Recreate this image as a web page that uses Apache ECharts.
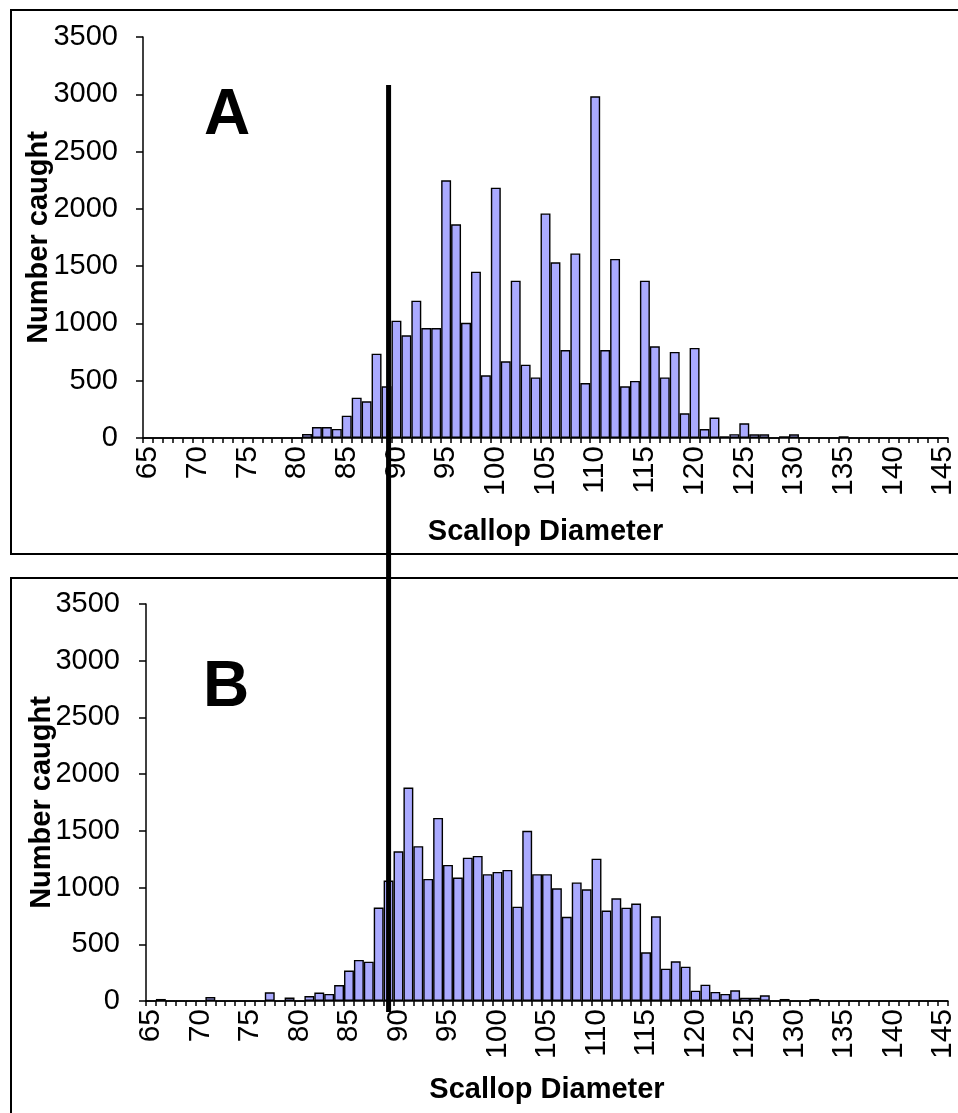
<!DOCTYPE html>
<html>
<head>
<meta charset="utf-8">
<script src="https://cdn.jsdelivr.net/npm/echarts@6/dist/echarts.min.js"></script>
<style>
  html, body { margin: 0; padding: 0; background: #fff; }
  #chart { width: 958px; height: 1113px; }
</style>
</head>
<body>
<div id="chart"></div>
<script>
// scallop diameter bins (mm)
const diameters = [
  '65','66','67','68','69','70','71','72','73','74','75','76','77','78','79','80',
  '81','82','83','84','85','86','87','88','89','90','91','92','93','94','95','96',
  '97','98','99','100','101','102','103','104','105','106','107','108','109','110',
  '111','112','113','114','115','116','117','118','119','120','121','122','123','124',
  '125','126','127','128','129','130','131','132','133','134','135','136','137','138',
  '139','140','141','142','143','144','145'
];

// panel A counts
const caughtA = [
  0, 0, 0, 0, 0, 0, 0, 0, 0, 0, 0, 0, 0, 0, 0, 0,
  35, 96, 96, 79, 195, 352, 320, 736, 451, 1024, 896, 1199, 960, 960, 2249, 1865,
  1006, 1452, 547, 2185, 669, 1373, 640, 529, 1960, 1533, 768, 1611, 480, 2982,
  768, 1563, 451, 498, 1373, 800, 529, 751, 215, 786, 78, 178, 15, 33,
  128, 32, 32, 0, 15, 32, 0, 0, 0, 0, 15, 0, 0, 0,
  0, 0, 0, 0, 0, 0, 0
];

// panel B counts
const caughtB = [
  0, 18, 0, 0, 0, 0, 35, 0, 0, 0, 0, 0, 77, 0, 30, 0,
  44, 74, 62, 141, 268, 362, 347, 824, 1062, 1320, 1882, 1365, 1076, 1614, 1200, 1088,
  1264, 1279, 1118, 1138, 1156, 832, 1500, 1118, 1118, 994, 742, 1045, 985, 1255,
  797, 906, 823, 859, 430, 747, 285, 350, 303, 91, 144, 80, 62, 94,
  29, 29, 50, 0, 18, 0, 0, 18, 0, 0, 0, 0, 0, 0,
  0, 0, 0, 0, 0, 0, 0
];

const yTicks = { min: 0, max: 3500, step: 500 };
const cutoffSize = '89';   // the vertical reference line
const panelLetters = ['A', 'B'];

const FONT = '"Liberation Sans", Arial, sans-serif';
const chart = echarts.init(document.getElementById('chart'));

function xAxisFor(i, nameGap) {
  return {
    type: 'category',
    gridIndex: i,
    data: diameters,
    boundaryGap: true,
    name: 'Scallop Diameter',
    nameLocation: 'middle',
    nameGap: nameGap,
    nameMoveOverlap: false,
    nameTextStyle: { color: '#000', fontFamily: FONT, fontWeight: 'bold', fontSize: 29 },
    axisLine: { lineStyle: { color: '#000', width: 1.5 } },
    axisTick: { show: true, interval: 0, length: 5, lineStyle: { color: '#000', width: 1.5 } },
    axisLabel: {
      interval: 4, rotate: 90, margin: 8, color: '#000',
      fontFamily: FONT, fontSize: 30, padding: [0, 0, 6, 0]
    }
  };
}

function yAxisFor(i, margin) {
  return {
    type: 'value',
    gridIndex: i,
    min: yTicks.min, max: yTicks.max, interval: yTicks.step,
    name: 'Number caught',
    nameLocation: 'middle',
    nameGap: 90,
    nameMoveOverlap: false,
    nameTextStyle: { color: '#000', fontFamily: FONT, fontWeight: 'bold', fontSize: 29 },
    splitLine: { show: false },
    axisLine: { show: true, lineStyle: { color: '#000', width: 1.5 } },
    axisTick: { show: true, length: 7, lineStyle: { color: '#000', width: 1.5 } },
    axisLabel: {
      margin: margin, color: '#000', fontFamily: FONT, fontSize: 29,
      formatter: v => String(v)
    }
  };
}

function barSeries(i, data) {
  return {
    type: 'bar',
    xAxisIndex: i,
    yAxisIndex: i,
    data: data,
    barCategoryGap: '0%',
    itemStyle: { color: '#aaaaff', borderColor: '#000', borderWidth: 1.4 },
    emphasis: { disabled: true },
    animation: false
  };
}

chart.setOption({
  animation: false,
  backgroundColor: '#fff',
  grid: [
    { left: 143, top: 37, width: 814, height: 401 },
    { left: 146, top: 604, width: 811, height: 397 }
  ],
  xAxis: [xAxisFor(0, 79), xAxisFor(1, 74)],
  yAxis: [yAxisFor(0, 25), yAxisFor(1, 26)],
  series: [barSeries(0, caughtA), barSeries(1, caughtB)]
});

// frames, panel letters and the cut-off line spanning both panels
const lineX = chart.convertToPixel({ xAxisIndex: 1 }, cutoffSize);
chart.setOption({
  graphic: [
    { type: 'rect', shape: { x: 11, y: 10, width: 1000, height: 544 },
      style: { fill: null, stroke: '#000', lineWidth: 2 }, silent: true },
    { type: 'rect', shape: { x: 11, y: 578, width: 1000, height: 600 },
      style: { fill: null, stroke: '#000', lineWidth: 2 }, silent: true },
    { type: 'text', x: 227, y: 116, style: { text: panelLetters[0], fill: '#000',
      font: 'bold 64px ' + FONT, textAlign: 'center', textVerticalAlign: 'middle' }, z: 10 },
    { type: 'text', x: 226, y: 688, style: { text: panelLetters[1], fill: '#000',
      font: 'bold 64px ' + FONT, textAlign: 'center', textVerticalAlign: 'middle' }, z: 10 },
    { type: 'line', shape: { x1: lineX, y1: 85, x2: lineX, y2: 1012 },
      style: { stroke: '#000', lineWidth: 5 }, z: 20, silent: true }
  ]
});
</script>
</body>
</html>
